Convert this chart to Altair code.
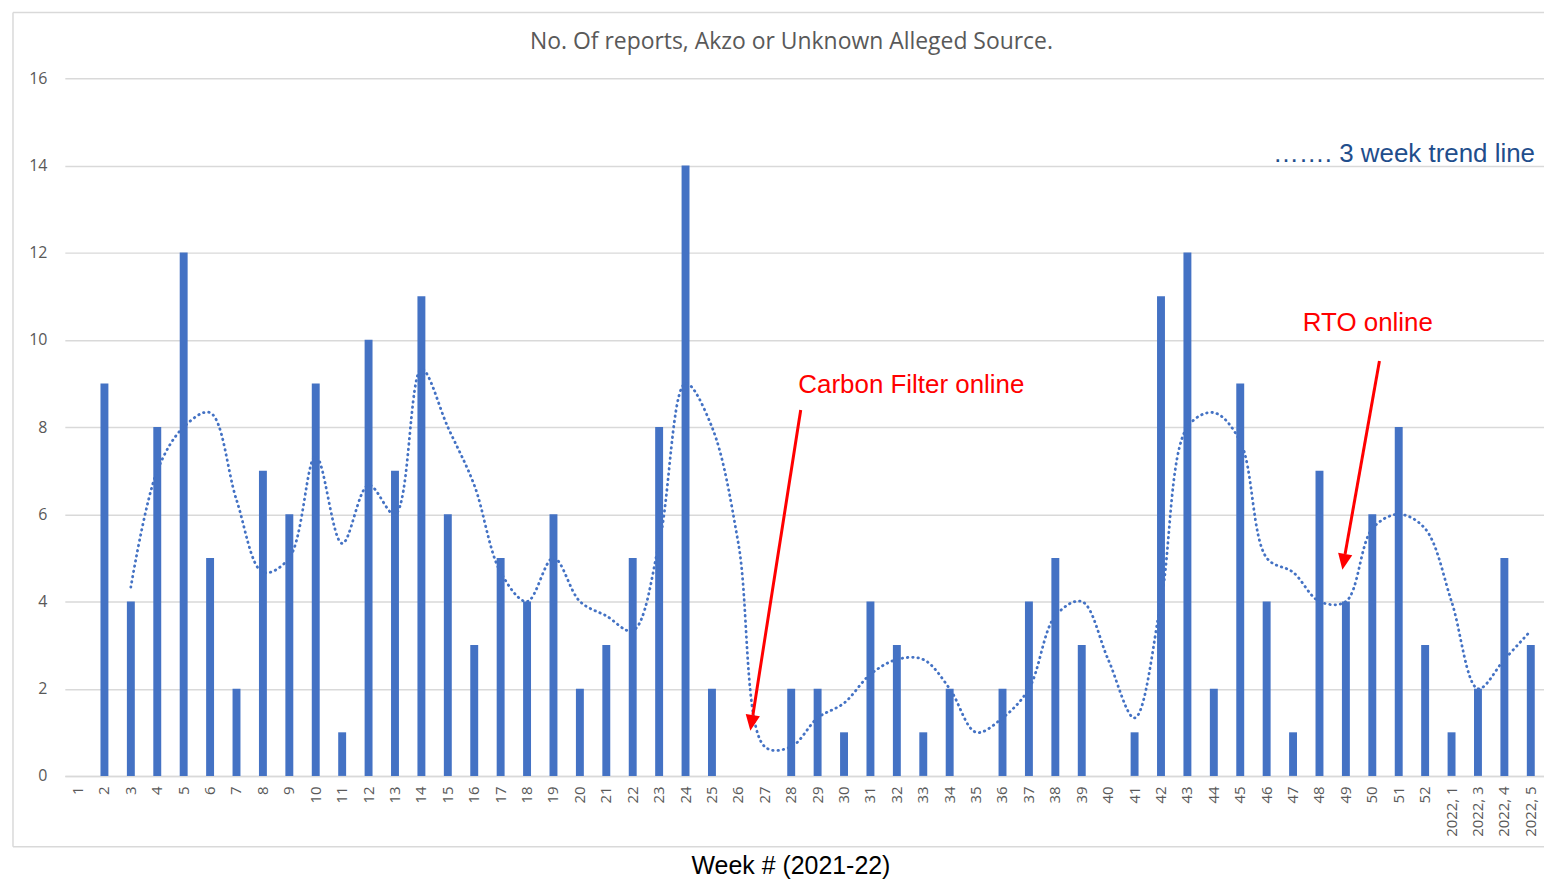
import altair as alt
import pandas as pd

# ---------------- data ----------------
weeks = [str(i) for i in range(1, 53)] + ["2022, 1", "2022, 3", "2022, 4", "2022, 5"]
reports = [0, 9, 4, 8, 12, 5, 2, 7, 6, 9,
           1, 10, 7, 11, 6, 3, 5, 4, 6, 2,
           3, 5, 8, 14, 2, 0, 0, 2, 2, 1,
           4, 3, 1, 2, 0, 2, 4, 5, 3, 0,
           1, 11, 12, 2, 9, 4, 1, 7, 4, 6,
           8, 3, 1, 2, 5, 3]
trend = [None, None, 4.33, 7, 8, 8.33, 6.33, 4.67, 5, 7.33, 5.33, 6.67,
         6, 9.33, 8, 6.67, 4.67, 4, 5, 4, 3.67, 3.33,
         5.33, 9, 8, 5.33, 0.67, 0.67, 1.33, 1.67, 2.33, 2.67,
         2.67, 2, 1, 1.33, 2, 3.67, 4, 2.67, 1.33, 4,
         8, 8.33, 7.67, 5, 4.67, 4, 4, 5.67, 6, 5.67,
         4, 2, 2.67, 3.33]
y_ticks = [0, 2, 4, 6, 8, 10, 12, 14, 16]

title_text = "No. Of reports, Akzo or Unknown Alleged Source."
x_title = "Week # (2021-22)"
red_notes = ["Carbon Filter online", "RTO online"]
legend_note = "……. 3 week trend line"

# ---------------- layout / style ----------------
W, H = 1484, 700
N = len(weeks)
BLUE = "#4472C4"
RED = "#FF0000"
GRID = "#d9d9d9"
LABEL = "#595959"

df = pd.DataFrame({"week": weeks, "reports": reports, "trend": trend})

yscale = alt.Scale(domain=[0, 16], nice=False, zero=True)

bars = alt.Chart(df).mark_bar(color=BLUE).encode(
    x=alt.X("week:N", sort=None,
            scale=alt.Scale(paddingInner=0.7, paddingOuter=0.35),
            axis=alt.Axis(labelAngle=-90, labelPadding=10, ticks=False,
                          domain=True, domainColor=GRID, domainWidth=1.5,
                          grid=False, labelFont="Open Sans", labelFontSize=15,
                          labelColor=LABEL, title=x_title,
                          titleFont="Liberation Sans", titleFontSize=25,
                          titleFontWeight="normal", titleColor="black",
                          titleX=728, titleY=98, titleBaseline="alphabetic",
                          titleAlign="center")),
    y=alt.Y("reports:Q", scale=yscale,
            axis=alt.Axis(values=y_ticks, domain=False, ticks=False,
                          labelPadding=18, labelFont="Open Sans",
                          labelFontSize=16, labelColor=LABEL, title=None,
                          grid=True, gridColor=GRID, gridWidth=1.5)),
)

line = alt.Chart(df).mark_line(
    color=BLUE, strokeWidth=2.8, strokeDash=[0.5, 4.8], strokeCap="round",
    interpolate="catmull-rom"
).encode(
    x=alt.X("week:N", sort=None),
    y=alt.Y("trend:Q", scale=yscale),
)

data_layer = alt.layer(bars, line)

# ---------------- annotations ----------------
xq = alt.Scale(domain=[-0.5, N - 0.5], nice=False, zero=False)

red_df = pd.DataFrame({"label": red_notes, "pos": [27.27, 46.37], "val": [8.96, 10.38]})
red_text = alt.Chart(red_df).mark_text(
    align="left", baseline="middle", font="Liberation Sans", fontSize=26, color=RED
).encode(
    x=alt.X("pos:Q", scale=xq, axis=None),
    y=alt.Y("val:Q", scale=yscale),
    text="label:N",
)

leg_df = pd.DataFrame({"label": [legend_note], "pos": [55.16], "val": [14.26]})
leg_text = alt.Chart(leg_df).mark_text(
    align="right", baseline="middle", font="Liberation Sans", fontSize=26, color="#1F4E8C"
).encode(
    x=alt.X("pos:Q", scale=xq, axis=None),
    y=alt.Y("val:Q", scale=yscale),
    text="label:N",
)

arrow_df = pd.DataFrame({"pos": [27.36, 49.27], "val": [8.39, 9.515],
                         "pos2": [25.55, 47.97], "val2": [1.397, 5.09]})
arrows = alt.Chart(arrow_df).mark_rule(color=RED, strokeWidth=3).encode(
    x=alt.X("pos:Q", scale=xq, axis=None),
    y=alt.Y("val:Q", scale=yscale),
    x2="pos2:Q",
    y2="val2:Q",
)

head_df = pd.DataFrame({"pos": [25.50, 47.92], "val": [1.216, 4.91], "ang": [8.9, 10.1]})
heads = alt.Chart(head_df).mark_point(
    shape="M-0.9,-1L0.9,-1L0,1Z", filled=True, color=RED, opacity=1, size=256
).encode(
    x=alt.X("pos:Q", scale=xq, axis=None),
    y=alt.Y("val:Q", scale=yscale),
    angle=alt.Angle("ang:Q", scale=None),
)

one = pd.DataFrame({"k": [0]})
border_top = alt.Chart(one).mark_rule(color=GRID, strokeWidth=1.5).encode(
    x=alt.value(-52), x2=alt.value(1490), y=alt.value(-66))
border_bottom = alt.Chart(one).mark_rule(color=GRID, strokeWidth=1.5).encode(
    x=alt.value(-52), x2=alt.value(1490), y=alt.value(771))
border_left = alt.Chart(one).mark_rule(color=GRID, strokeWidth=1.5).encode(
    x=alt.value(-52), y=alt.value(-66), y2=alt.value(771))

title = alt.Chart(pd.DataFrame({"t": [title_text]})).mark_text(
    align="center", baseline="alphabetic", font="Open Sans", fontSize=23, color=LABEL
).encode(x=alt.value(729), y=alt.value(-29), text="t:N")

ann_layer = alt.layer(border_top, border_bottom, border_left, title,
                      arrows, heads, red_text, leg_text)

chart = alt.layer(data_layer, ann_layer).resolve_scale(x="independent").properties(
    width=W, height=H,
    autosize=alt.AutoSizeParams(type="none"),
    padding={"left": 57, "top": 69, "right": 0, "bottom": 104},
).configure_view(stroke=None)

chart.save("out.html", embed_options={"renderer": "svg", "actions": False})
